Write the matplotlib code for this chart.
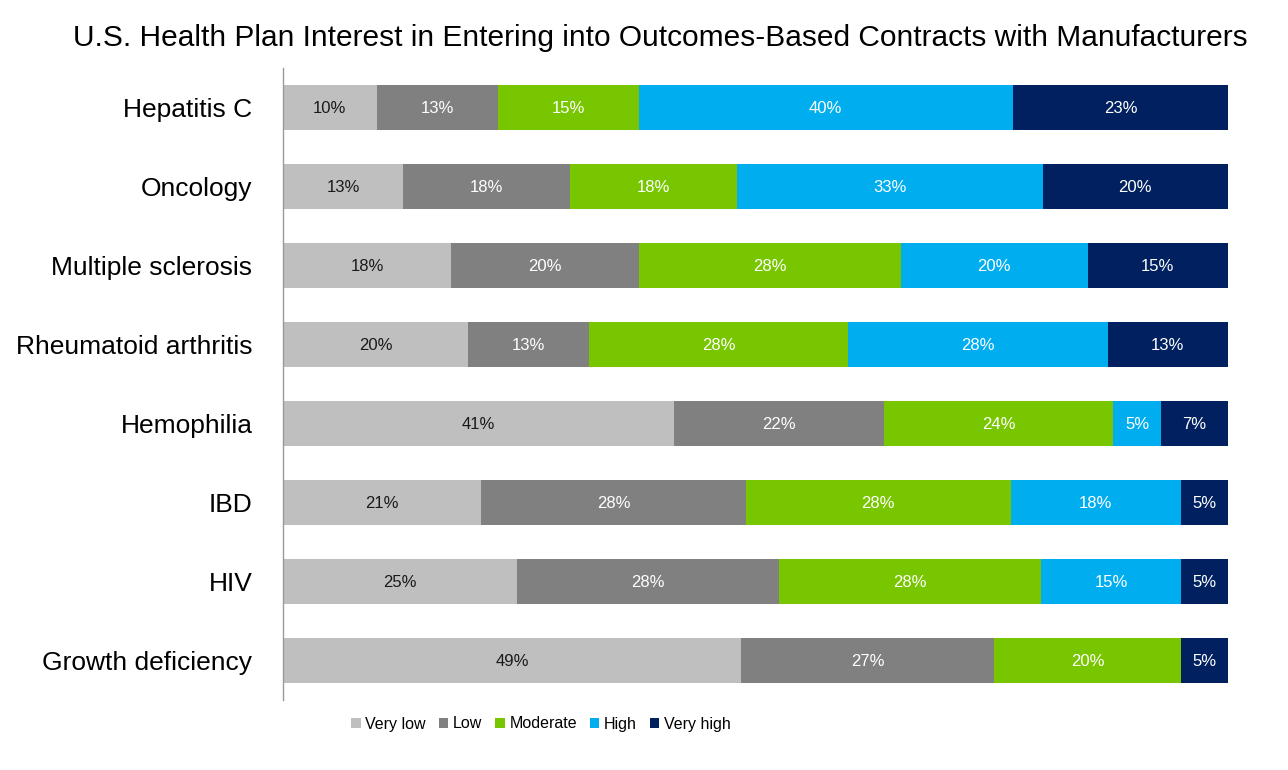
import matplotlib
matplotlib.use("Agg")
import matplotlib.pyplot as plt
import numpy as np

categories = ["Hepatitis C", "Oncology", "Multiple sclerosis", "Rheumatoid arthritis",
              "Hemophilia", "IBD", "HIV", "Growth deficiency"]
series = ["Very low", "Low", "Moderate", "High", "Very high"]
very_low = [10, 13, 18, 20, 41, 21, 25, 49]
low = [13, 18, 20, 13, 22, 28, 28, 27]
moderate = [15, 18, 28, 28, 24, 28, 28, 20]
high = [40, 33, 20, 28, 5, 18, 15, 0]
very_high = [23, 20, 15, 13, 7, 5, 5, 5]
title = "U.S. Health Plan Interest in Entering into Outcomes-Based Contracts with Manufacturers"

colors = ["#BFBFBF", "#808080", "#77C600", "#00AEEF", "#002060"]
label_colors = ["#1a1a1a", "white", "white", "white", "white"]

plt.rcParams["font.family"] = ["Liberation Sans", "DejaVu Sans"]

data = np.array([very_low, low, moderate, high, very_high], dtype=float)
totals = data.sum(axis=0)
norm = data / totals

fig = plt.figure(figsize=(12.88, 7.7), dpi=100)
ax = fig.add_axes([283/1288, 1-700/770, (1228-283)/1288, (700-68)/770])

y = np.arange(len(categories))
left = np.zeros(len(categories))
for i, name in enumerate(series):
    ax.barh(y, norm[i], left=left, height=0.56, color=colors[i],
            label=name, linewidth=0)
    for j in range(len(categories)):
        if data[i, j] > 0:
            ax.text(left[j] + norm[i, j] / 2, y[j] + 0.01, f"{int(data[i, j])}%",
                    ha="center", va="center", fontsize=12, color=label_colors[i])
    left += norm[i]

ax.set_xlim(0, 1)
ax.set_ylim(len(categories) - 0.5, -0.5)
ax.set_yticks(y)
ax.set_yticklabels(categories, fontsize=19)
ax.tick_params(axis="y", length=0, pad=22)
ax.set_xticks([])
for s in ["top", "right", "bottom"]:
    ax.spines[s].set_visible(False)
ax.spines["left"].set_color("#999999")
ax.spines["left"].set_linewidth(1.0)

fig.text(0.5124, 0.951, title, ha="center", va="center", fontsize=21.5)

leg = fig.legend(loc="center", bbox_to_anchor=(541/1288, 1-724/770), ncol=5,
                 frameon=False, fontsize=11.5, handlelength=0.6, handleheight=0.6,
                 handletextpad=0.3, columnspacing=0.8)

fig.savefig("out.png", dpi=100, facecolor="white")
